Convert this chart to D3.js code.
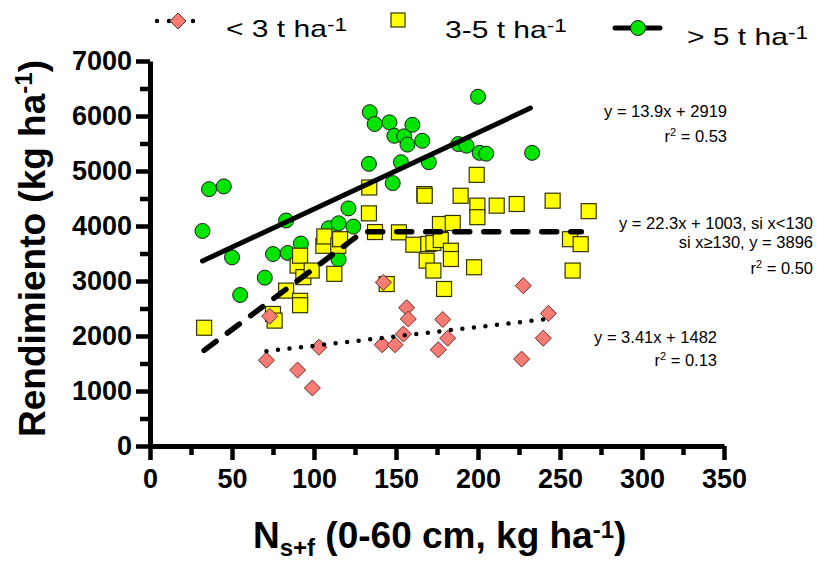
<!DOCTYPE html>
<html>
<head>
<meta charset="utf-8">
<script src="https://cdn.jsdelivr.net/npm/d3@7"></script>
<style>
  body { margin: 0; background: #fff; }
  svg { display: block; }
  text { font-family: Arial, "Liberation Sans", sans-serif; fill: #000; }
</style>
</head>
<body>
<div id="chart"></div>
<script>
// Yield vs soil N (0-60 cm), split into three yield groups

// < 3 t/ha
const lowN = [71, 73, 90, 99, 103, 141.6, 142.3, 149.4, 154.5, 156.5, 157.5, 175.8, 178.5, 181.5, 226.6, 227.6, 239.8, 242.9];
const lowYield = [1560, 2360, 1380, 1055, 1795, 1840, 2975, 1840, 2035, 2515, 2310, 1750, 2300, 1960, 1580, 2915, 1960, 2410];

// 3-5 t/ha
const midN = [33, 75, 76, 83, 90, 91.5, 91.5, 91.5, 93.5, 98.6, 105.7, 106.3, 112.4, 114.8, 115.9, 133.5, 133.7, 137.2, 144.3, 151.8,
              160.6, 167.3, 167.5, 168.7, 169.7, 172.8, 172.8, 176.8, 177.3, 179.3, 183.5, 183.5, 184.6, 189.4, 197.6, 199.2, 199.6, 199.6, 211.4, 223.6,
              245.5, 256.1, 257.7, 262.6, 267.5];
const midYield = [2150, 2400, 2280, 2825, 3280, 3460, 2640, 2560, 3070, 3190, 3640, 3810, 3130, 3640, 3760, 4230, 4700, 3890, 2945, 3885,
                  3660, 4580, 4550, 3370, 3673, 3690, 3190, 4036, 3745, 2855, 3550, 3400, 4055, 4550, 3250, 4930, 4370, 4160, 4370, 4400,
                  4460, 3760, 3190, 3670, 4270];

// > 5 t/ha
const highN = [32, 36, 45, 50, 55, 70, 75, 83, 84, 92, 109, 115, 115, 121, 124, 133.5, 134, 137, 146, 148, 149, 153, 155, 157, 160, 166, 170, 188, 193, 200, 201, 205, 233];
const highYield = [3910, 4670, 4720, 3430, 2745, 3060, 3490, 4100, 3510, 3680, 3960, 4050, 3390, 4320, 3990, 5130, 6070, 5855, 5885, 4780, 5640, 5160, 5630, 5480, 5840, 5550, 5160, 5490, 5460, 6350, 5330, 5315, 5330];

// fitted lines
const lowFit = { slope: 3.41, intercept: 1482, from: 71, to: 240 };
const midFit = { slope: 22.3, intercept: 1003, plateau: 3896, breakX: 130, from: 33, to: 263 };
const highFit = { slope: 13.9, intercept: 2919, from: 32, to: 232 };

const xTicks = [0, 50, 100, 150, 200, 250, 300, 350];
const yTicks = [0, 1000, 2000, 3000, 4000, 5000, 6000, 7000];

const width = 817, height = 561;

const svg = d3.select("#chart")
    .append("svg")
    .attr("width", width)
    .attr("height", height);

let x = d3.scaleLinear().domain([0, 350]).range([150, 724]);
let y = d3.scaleLinear().domain([0, 7000]).range([446, 61]);

// minor ticks first, then the main axes on top
svg.append("g")
    .attr("class", "minor")
    .attr("transform", "translate(150,0)")
    .call(d3.axisLeft(y).tickValues(d3.range(500, 7000, 1000)).tickSize(10).tickFormat("").tickSizeOuter(0));

svg.append("g")
    .attr("class", "minor")
    .attr("transform", "translate(0,446)")
    .call(d3.axisBottom(x).tickValues(d3.range(25, 350, 50)).tickSize(9).tickFormat("").tickSizeOuter(0));

svg.append("g")
    .attr("class", "y-axis")
    .attr("transform", "translate(150,0)")
    .call(d3.axisLeft(y).tickValues(yTicks).tickFormat(d3.format("d"))
        .tickSize(14).tickPadding(4).tickSizeOuter(0));

svg.append("g")
    .attr("class", "x-axis")
    .attr("transform", "translate(0,446)")
    .call(d3.axisBottom(x).tickValues(xTicks).tickFormat(d3.format("d"))
        .tickSize(14).tickPadding(9).tickSizeOuter(0));

svg.selectAll(".minor .domain").remove();
svg.selectAll(".domain").attr("stroke", "#000").attr("stroke-width", 5);
svg.selectAll(".tick line").attr("stroke", "#000").attr("stroke-width", 4.5);
svg.selectAll(".x-axis text, .y-axis text")
    .style("font-size", "27px")
    .style("font-weight", "bold")
    .attr("fill", "#000");

// axis titles
const yTitle = svg.append("text")
    .attr("transform", "translate(45,437) rotate(-90)")
    .style("font-size", "37px")
    .style("font-weight", "bold");
yTitle.append("tspan").text("Rendimiento (kg ha");
yTitle.append("tspan").attr("dy", -13).style("font-size", "24px").text("-1");
yTitle.append("tspan").attr("dy", 13).text(")");

const xTitle = svg.append("text")
    .attr("x", 253)
    .attr("y", 548)
    .style("font-size", "37px")
    .style("font-weight", "bold");
xTitle.append("tspan").text("N");
xTitle.append("tspan").attr("dy", 8).style("font-size", "24px").text("s+f");
xTitle.append("tspan").attr("dy", -8).text(" (0-60 cm, kg ha");
xTitle.append("tspan").attr("dy", -10).style("font-size", "24px").text("-1");
xTitle.append("tspan").attr("dy", 10).text(")");

// markers
const diamond = "M0,-8L8,0L0,8L-8,0Z";

svg.append("g")
    .selectAll("circle")
    .data(highN.map((n, i) => [n, highYield[i]]))
    .join("circle")
    .attr("cx", d => x(d[0]))
    .attr("cy", d => y(d[1]))
    .attr("r", 7.5)
    .attr("fill", "#00e400")
    .attr("stroke", "#1a1a1a")
    .attr("stroke-width", 1);

svg.append("g")
    .selectAll("rect")
    .data(midN.map((n, i) => [n, midYield[i]]))
    .join("rect")
    .attr("x", d => x(d[0]) - 7.5)
    .attr("y", d => y(d[1]) - 7.5)
    .attr("width", 15)
    .attr("height", 15)
    .attr("fill", "#ffff00")
    .attr("stroke", "#333300")
    .attr("stroke-width", 1.2);

svg.append("g")
    .selectAll("path")
    .data(lowN.map((n, i) => [n, lowYield[i]]))
    .join("path")
    .attr("d", diamond)
    .attr("transform", d => `translate(${x(d[0])},${y(d[1])})`)
    .attr("fill", "#f87c74")
    .attr("stroke", "#6b2b2b")
    .attr("stroke-width", 1);

// regression lines
const line = d3.line().x(d => x(d[0])).y(d => y(d[1]));

svg.append("path")
    .attr("d", line([highFit.from, highFit.to].map(v => [v, highFit.slope * v + highFit.intercept])))
    .attr("fill", "none")
    .attr("stroke", "#000")
    .attr("stroke-width", 5)
    .attr("stroke-linecap", "round");

svg.append("path")
    .attr("d", line([midFit.from, midFit.breakX, midFit.to]
        .map(v => [v, Math.min(midFit.slope * v + midFit.intercept, midFit.plateau)])))
    .attr("fill", "none")
    .attr("stroke", "#000")
    .attr("stroke-width", 5.5)
    .attr("stroke-dasharray", "15 14")
    .attr("stroke-linecap", "round");

svg.append("path")
    .attr("d", line([lowFit.from, lowFit.to].map(v => [v, lowFit.slope * v + lowFit.intercept])))
    .attr("fill", "none")
    .attr("stroke", "#000")
    .attr("stroke-width", 4.5)
    .attr("stroke-dasharray", "0 11.6")
    .attr("stroke-linecap", "round");

// equations
function eqText(xr, yb, parts) {
    const t = svg.append("text")
        .attr("x", xr)
        .attr("y", yb)
        .attr("text-anchor", "end")
        .style("font-size", "16.5px");
    parts.forEach(p => {
        const s = t.append("tspan").text(p.t);
        if (p.sup) s.attr("dy", -6).style("font-size", "11px");
        if (p.back) s.attr("dy", 6);
    });
}

eqText(727, 117, [{ t: "y = 13.9x + 2919" }]);
eqText(727, 142, [{ t: "r" }, { t: "2", sup: true }, { t: " = 0.53", back: true }]);
eqText(813, 229, [{ t: "y = 22.3x + 1003, si x<130" }]);
eqText(813, 248, [{ t: "si x≥130, y = 3896" }]);
eqText(813, 274, [{ t: "r" }, { t: "2", sup: true }, { t: " = 0.50", back: true }]);
eqText(717, 343, [{ t: "y = 3.41x + 1482" }]);
eqText(717, 366, [{ t: "r" }, { t: "2", sup: true }, { t: " = 0.13", back: true }]);

// legend
const legend = svg.append("g").attr("class", "legend");

legend.append("line")
    .attr("x1", 157).attr("x2", 194).attr("y1", 21).attr("y2", 21)
    .attr("stroke", "#000")
    .attr("stroke-width", 4.5)
    .attr("stroke-dasharray", "0 12")
    .attr("stroke-linecap", "round");
legend.append("path")
    .attr("d", diamond)
    .attr("transform", "translate(178,21)")
    .attr("fill", "#f87c74")
    .attr("stroke", "#6b2b2b");

legend.append("rect")
    .attr("x", 391).attr("y", 13).attr("width", 14).attr("height", 14)
    .attr("fill", "#ffff00")
    .attr("stroke", "#333300")
    .attr("stroke-width", 1.2);

legend.append("line")
    .attr("x1", 615).attr("x2", 660).attr("y1", 28).attr("y2", 28)
    .attr("stroke", "#000")
    .attr("stroke-width", 5)
    .attr("stroke-linecap", "round");
legend.append("circle")
    .attr("cx", 638).attr("cy", 28).attr("r", 7.5)
    .attr("fill", "#00e400")
    .attr("stroke", "#1a1a1a");

const legendLabels = ["< 3 t ha", "3-5 t ha", "> 5 t ha"];
const legendPos = [[226, 37], [445, 38], [687, 45]];

legendLabels.forEach((lab, i) => {
    const t = legend.append("text")
        .attr("transform", `translate(${legendPos[i][0]},${legendPos[i][1]}) scale(1.25,1)`)
        .style("font-size", "24px");
    t.append("tspan").text(lab);
    t.append("tspan").attr("dy", -6).style("font-size", "18px").text("-1");
});
</script>
</body>
</html>
